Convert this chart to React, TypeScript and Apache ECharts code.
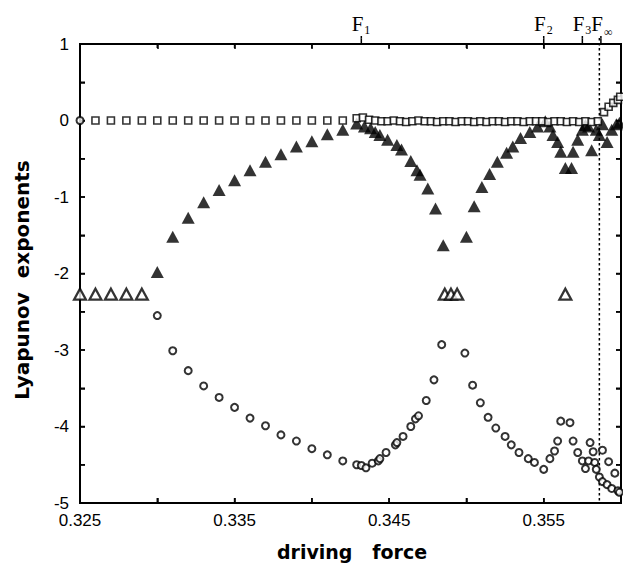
import React, { useEffect, useRef } from "react";
import * as echarts from "echarts";

const X_MIN = 0.325;
const X_MAX = 0.36;
const Y_MIN = -5;
const Y_MAX = 1;

const xTickValues = [0.325, 0.33, 0.335, 0.34, 0.345, 0.35, 0.355, 0.36];
const xTickLabels = [0.325, 0.335, 0.345, 0.355];
const yTickValues = [-5, -4.5, -4, -3.5, -3, -2.5, -2, -1.5, -1, -0.5, 0, 0.5, 1];
const yTickLabels = [-5, -4, -3, -2, -1, 0, 1];

const bifurcationForces = [0.3432, 0.355, 0.3575, 0.3587];
const bifurcationSubscripts = ["1", "2", "3", "∞"];
const accumulationForce = 0.3586;

// largest exponent (open squares)
const squareForce = [
  0.326, 0.327, 0.328, 0.329, 0.33, 0.331, 0.332, 0.333, 0.334, 0.335, 0.336, 0.337, 0.338, 0.339, 0.34, 0.341, 0.342,
  0.3429, 0.3433, 0.3437, 0.3441, 0.3445, 0.3449, 0.3453, 0.3457, 0.3461, 0.3465, 0.3469, 0.3473, 0.3477, 0.3481,
  0.3485, 0.3489, 0.3493, 0.3497, 0.3501, 0.3505, 0.3509, 0.3513, 0.3517, 0.3521, 0.3525, 0.3529, 0.3533, 0.3537,
  0.3541, 0.3545, 0.3549, 0.3553, 0.3557, 0.3561, 0.3565, 0.3569, 0.3573, 0.3577, 0.3581, 0.3585,
  0.3589, 0.3592, 0.3595, 0.3598, 0.35995,
];
const squareExponent = [
  0, 0, 0, 0, 0, 0, 0, 0, 0, 0, 0, 0, 0, 0, 0, 0, 0,
  0.03, 0.04, 0.01, 0, -0.01, -0.01, 0, -0.01, -0.02, -0.01, 0, -0.01, -0.01, -0.02,
  -0.01, -0.01, -0.02, -0.01, -0.01, -0.02, -0.01, -0.02, -0.01, -0.01, -0.02, -0.01, -0.01, -0.02,
  -0.01, -0.01, -0.01, -0.02, -0.01, -0.01, -0.02, -0.01, -0.02, -0.01, -0.02, -0.01,
  0.11, 0.18, 0.23, 0.27, 0.31,
];

// second exponent (filled triangles)
const filledTriForce = [
  0.33, 0.331, 0.332, 0.333, 0.334, 0.335, 0.336, 0.337, 0.338, 0.339, 0.34, 0.341, 0.342,
  0.3429, 0.3434, 0.3438, 0.3441, 0.3444, 0.3449, 0.3455, 0.3458, 0.3464, 0.3468, 0.347, 0.3475, 0.348, 0.3485,
  0.35, 0.3505, 0.351, 0.3515, 0.352, 0.3526, 0.353, 0.3535, 0.3541, 0.3546, 0.3551,
  0.3554, 0.3556, 0.3559, 0.3561, 0.3564, 0.3568, 0.3569, 0.3572, 0.3575, 0.3577, 0.3579, 0.3581, 0.3584,
  0.3586, 0.3588, 0.3591, 0.3594, 0.3597, 0.3599,
];
const filledTriExponent = [
  -1.98, -1.52, -1.27, -1.07, -0.91, -0.78, -0.65, -0.54, -0.44, -0.34, -0.27, -0.18, -0.12,
  -0.04, -0.08, -0.1, -0.15, -0.19, -0.25, -0.32, -0.38, -0.53, -0.65, -0.71, -0.89, -1.15, -1.63,
  -1.52, -1.12, -0.87, -0.7, -0.54, -0.42, -0.34, -0.23, -0.15, -0.08, -0.01,
  -0.08, -0.19, -0.28, -0.41, -0.62, -0.62, -0.41, -0.25, -0.12, -0.06, -0.08, -0.39, -0.12,
  -0.19, -0.05, -0.28, -0.12, -0.05, -0.03,
];

// degenerate pair (open triangles)
const openTriForce = [0.325, 0.326, 0.327, 0.328, 0.329, 0.3486, 0.349, 0.3494, 0.3564];
const openTriExponent = [-2.27, -2.27, -2.27, -2.27, -2.27, -2.27, -2.27, -2.27, -2.27];

// third exponent (open circles)
const circleForce = [
  0.325, 0.33, 0.331, 0.332, 0.333, 0.334, 0.335, 0.336, 0.337, 0.338, 0.339, 0.34, 0.341, 0.342,
  0.3429, 0.3432, 0.3435, 0.3439, 0.3443, 0.3444, 0.3448, 0.3454, 0.3455, 0.3459, 0.3464, 0.3467, 0.3469,
  0.3474, 0.3479, 0.3484,
  0.3499, 0.3504, 0.3509, 0.3514, 0.3519, 0.3525, 0.3529, 0.3534, 0.354, 0.3544, 0.355, 0.3554, 0.3557,
  0.3559, 0.3561, 0.3567, 0.3569, 0.3572, 0.3575, 0.3577, 0.3579, 0.358, 0.3582, 0.3583, 0.3584, 0.3586,
  0.3588, 0.3588, 0.3591, 0.3592, 0.3594, 0.3596, 0.3598, 0.3599,
];
const circleExponent = [
  0, -2.55, -3.01, -3.27, -3.47, -3.62, -3.75, -3.89, -3.99, -4.11, -4.19, -4.29, -4.37, -4.45,
  -4.5, -4.51, -4.54, -4.48, -4.45, -4.42, -4.34, -4.24, -4.21, -4.13, -4.0, -3.9, -3.86,
  -3.66, -3.39, -2.93,
  -3.04, -3.46, -3.69, -3.88, -4.02, -4.13, -4.24, -4.34, -4.42, -4.47, -4.56, -4.42, -4.32,
  -4.19, -3.93, -3.95, -4.19, -4.34, -4.45, -4.55, -4.45, -4.21, -4.33, -4.47, -4.56, -4.66,
  -4.31, -4.72, -4.76, -4.46, -4.81, -4.61, -4.84, -4.86,
];

const pairs = (xs: number[], ys: number[]) => xs.map((x, i) => [x, ys[i]]);

export default function App() {
  const ref = useRef<HTMLDivElement>(null);
  useEffect(() => {
    if (!ref.current) return;
    const chart = echarts.init(ref.current, undefined, { renderer: "svg" });
    const black = "#000000";
    const numFont = { color: black, fontSize: 17, fontFamily: "Liberation Sans" };
    const frameAxis = (extra: any) => ({
      type: "value",
      axisLine: { show: true, onZero: false, lineStyle: { color: black, width: 2 } },
      axisTick: { show: true, inside: true, length: 5, lineStyle: { color: black, width: 1.5 } },
      splitLine: { show: false },
      ...extra,
    });
    const bar = (x: number, y: number, width: number, height: number) => ({
      type: "rect",
      shape: { x, y, width, height },
      style: { fill: black },
    });
    // a stroke built from short touching pieces
    const hSeg = (out: any[], x1: number, x2: number, y: number, t: number) => {
      for (let x = x1; x < x2; x += 2.5) out.push(bar(x, y - t / 2, Math.min(2.6, x2 - x), t));
    };
    const vSeg = (out: any[], y1: number, y2: number, x: number, t: number) => {
      for (let y = y1; y < y2; y += 2.5) out.push(bar(x - t / 2, y, t, Math.min(2.6, y2 - y)));
    };
    chart.setOption({
      animation: false,
      grid: { left: 80, right: 2, top: 44, bottom: 71 },
      xAxis: [
        frameAxis({
          position: "bottom",
          min: X_MIN,
          max: X_MAX,
          interval: 0.005,
          axisLabel: {
            ...numFont,
            margin: 9,
            showMaxLabel: false,
            formatter: (v: number) =>
              xTickLabels.some((t) => Math.abs(t - v) < 1e-7) ? v.toFixed(3) : "",
          },
        }),
        frameAxis({
          position: "top",
          min: X_MIN,
          max: X_MAX,
          interval: 0.005,
          axisLabel: { show: false },
        }),
      ],
      yAxis: [
        frameAxis({
          position: "left",
          min: Y_MIN,
          max: Y_MAX,
          interval: 0.5,
          axisLabel: {
            ...numFont,
            margin: 11,
            formatter: (v: number) =>
              yTickLabels.some((t) => Math.abs(t - v) < 1e-7) ? String(Math.round(v)) : "",
          },
        }),
        frameAxis({
          position: "right",
          min: Y_MIN,
          max: Y_MAX,
          interval: 0.5,
          axisLabel: { show: false },
        }),
      ],
      graphic: [
        {
          type: "text",
          x: 22,
          y: 280,
          rotation: Math.PI / 2,
          style: {
            text: "Lyapunov  exponents",
            fill: black,
            fontSize: 20,
            fontWeight: "bold",
            fontFamily: "DejaVu Sans",
            align: "center",
            verticalAlign: "middle",
          },
        },
        {
          type: "text",
          x: 352,
          y: 552,
          style: {
            text: "driving   force",
            fill: black,
            fontSize: 19,
            fontWeight: "bold",
            fontFamily: "DejaVu Sans",
            align: "center",
            verticalAlign: "middle",
          },
        },
      ],
      series: [
        {
          type: "custom",
          name: "bifurcationLabels",
          silent: true,
          clip: false,
          data: bifurcationForces.map((f, i) => [f, Y_MAX, i]),
          renderItem: (params: any, api: any) => {
            const p = api.coord([api.value(0), Y_MAX]);
            const sub = bifurcationSubscripts[api.value(2)];
            return {
              type: "group",
              children: [
                {
                  type: "text",
                  x: p[0] + 2,
                  y: p[1] - 10,
                  style: {
                    text: "F",
                    fill: black,
                    fontSize: 21,
                    fontFamily: "Liberation Serif",
                    align: "right",
                    verticalAlign: "bottom",
                  },
                },
                {
                  type: "text",
                  x: p[0] + 3,
                  y: p[1] - (sub === "∞" ? 6 : 8),
                  style: {
                    text: sub,
                    fill: black,
                    fontSize: 12,
                    fontFamily: "Liberation Serif",
                    align: "left",
                    verticalAlign: "bottom",
                  },
                },
              ],
            };
          },
        },
        {
          type: "custom",
          name: "accumulationAndFrame",
          silent: true,
          clip: false,
          data: [[accumulationForce]],
          renderItem: (params: any, api: any) => {
            const top = api.coord([api.value(0), Y_MAX]);
            const bottom = api.coord([api.value(0), Y_MIN]);
            const parts: any[] = [];
            for (let y = top[1] - 6; y < bottom[1]; y += 5) {
              parts.push(bar(top[0] - 0.75, y, 1.5, 2.5));
            }
            const bl = api.coord([X_MIN, Y_MIN]);
            const tr = api.coord([X_MAX, Y_MAX]);
            vSeg(parts, tr[1] - 1, bl[1] + 1, bl[0], 2);
            vSeg(parts, tr[1] - 1, bl[1] + 1, tr[0], 2);
            hSeg(parts, bl[0] - 1, tr[0] + 1, tr[1], 1.6);
            hSeg(parts, bl[0] - 1, tr[0] + 1, bl[1], 2);
            xTickValues.forEach((v) => {
              const c = api.coord([v, Y_MIN]);
              vSeg(parts, bl[1] - 5, bl[1], c[0], 1.5);
              vSeg(parts, tr[1], tr[1] + 4, c[0], 1.5);
            });
            yTickValues.forEach((v) => {
              const c = api.coord([X_MIN, v]);
              hSeg(parts, bl[0], bl[0] + 5, c[1], 1.5);
              hSeg(parts, tr[0] - 5, tr[0], c[1], 1.5);
            });
            bifurcationForces.forEach((f) => {
              const c = api.coord([f, Y_MAX]);
              vSeg(parts, tr[1] - 8, tr[1], c[0], 1.5);
            });
            return { type: "group", children: parts };
          },
        },
        {
          type: "scatter",
          name: "lambda2",
          clip: false,
          data: pairs(filledTriForce, filledTriExponent),
          symbol: "triangle",
          symbolSize: [13, 12],
          itemStyle: { color: black },
        },
        {
          type: "scatter",
          name: "lambda1",
          clip: false,
          data: pairs(squareForce, squareExponent),
          symbol: "rect",
          symbolSize: 7,
          itemStyle: { color: "#fff", borderColor: black, borderWidth: 1.6 },
        },
        {
          type: "scatter",
          name: "degenerate",
          clip: false,
          data: pairs(openTriForce, openTriExponent),
          symbol: "triangle",
          symbolSize: [12, 11],
          itemStyle: { color: "#fff", borderColor: black, borderWidth: 2.2 },
        },
        {
          type: "scatter",
          name: "lambda3",
          clip: false,
          data: pairs(circleForce, circleExponent),
          symbol: "circle",
          symbolSize: 7,
          itemStyle: { color: "#fff", borderColor: black, borderWidth: 2 },
        },
      ],
    });
    return () => chart.dispose();
  }, []);
  return (
    <div
      ref={ref}
      style={{ position: "fixed", left: 0, top: 0, width: 623, height: 574, background: "#fff" }}
    />
  );
}
